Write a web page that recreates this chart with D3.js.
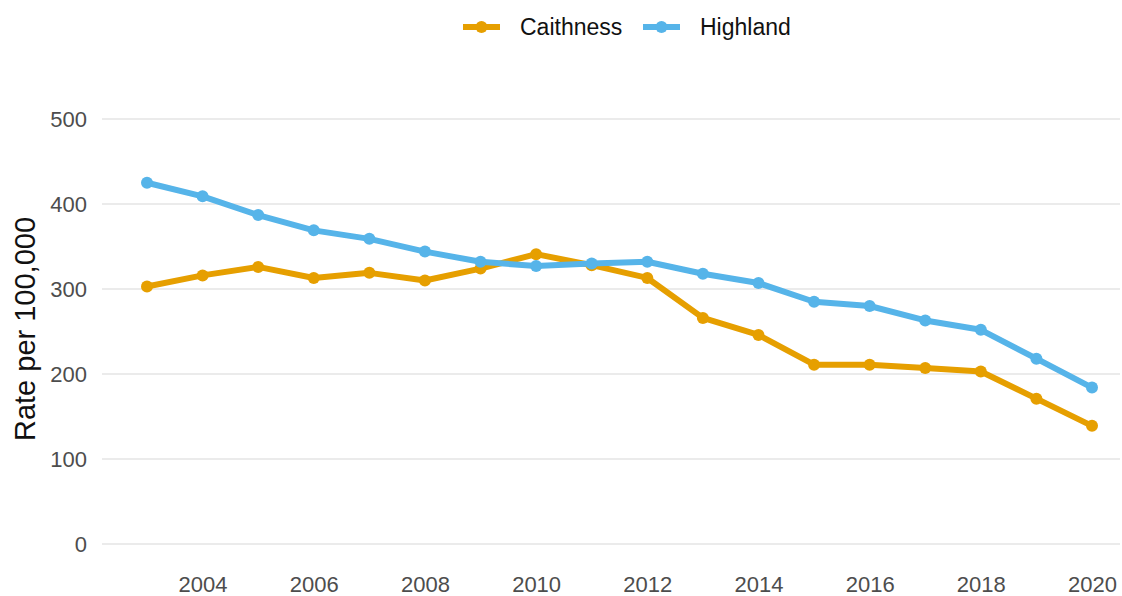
<!DOCTYPE html>
<html><head><meta charset="utf-8">
<script src="https://cdn.jsdelivr.net/npm/d3@7"></script>
<style>body{margin:0;background:#fff}svg{display:block}</style>
</head><body>
<svg id="c" width="1122" height="596"></svg>
<script>
const years = [2003,2004,2005,2006,2007,2008,2009,2010,2011,2012,2013,2014,2015,2016,2017,2018,2019,2020];
const caithness = [303,316,326,313,319,310,324,341,328,313,266,246,211,211,207,203,171,139];
const highland = [425,409,387,369,359,344,332,327,330,332,318,307,285,280,263,252,218,184];
const seriesNames = ["Caithness","Highland"];
const colors = ["#E69F00","#56B4E9"];
const yTicks = [0,100,200,300,400,500];
const xTicks = [2004,2006,2008,2010,2012,2014,2016,2018,2020];

const svg = d3.select("#c");
const x = d3.scaleLinear().domain([2003,2020]).range([147,1092]);
const y = d3.scaleLinear().domain([0,500]).range([544,119]);
const font = "'Liberation Sans', Arial, sans-serif";

// gridlines
svg.append("g").selectAll("line").data(yTicks).join("line")
  .attr("x1",102).attr("x2",1120)
  .attr("y1",d=>y(d)).attr("y2",d=>y(d))
  .attr("stroke","#ebebeb").attr("stroke-width",2);

// y axis
const ya = svg.append("g").attr("transform","translate(97,0)")
  .call(d3.axisLeft(y).tickValues(yTicks).tickSize(0).tickPadding(10));
ya.select(".domain").remove();
ya.selectAll("text").attr("font-family",font).attr("font-size",22).attr("fill","#4d4d4d");

// x axis
const xa = svg.append("g").attr("transform","translate(0,568)")
  .call(d3.axisBottom(x).tickValues(xTicks).tickFormat(d3.format("d")).tickSize(0).tickPadding(8));
xa.select(".domain").remove();
xa.selectAll("text").attr("font-family",font).attr("font-size",22).attr("fill","#4d4d4d");

// y title
svg.append("text").attr("transform","translate(35,329) rotate(-90)")
  .attr("text-anchor","middle").attr("font-family",font).attr("font-size",29)
  .attr("fill","#111").text("Rate per 100,000");

const data = [caithness, highland];
const line = d3.line().x((d,i)=>x(years[i])).y(d=>y(d));
data.forEach((s,k)=>{
  svg.append("path").datum(s).attr("d",line).attr("fill","none")
    .attr("stroke",colors[k]).attr("stroke-width",6).attr("stroke-linejoin","round");
  svg.append("g").selectAll("circle").data(s).join("circle")
    .attr("cx",(d,i)=>x(years[i])).attr("cy",d=>y(d)).attr("r",6).attr("fill",colors[k]);
});

// legend
const lg = svg.append("g");
const lx = [463,643];
seriesNames.forEach((n,k)=>{
  lg.append("line").attr("x1",lx[k]).attr("x2",lx[k]+37).attr("y1",27).attr("y2",27)
    .attr("stroke",colors[k]).attr("stroke-width",6);
  lg.append("circle").attr("cx",lx[k]+18.5).attr("cy",27).attr("r",6).attr("fill",colors[k]);
  lg.append("text").attr("x",lx[k]+57).attr("y",27).attr("dy","0.35em")
    .attr("font-family",font).attr("font-size",23).attr("fill","#111").text(n);
});
</script>
</body></html>
